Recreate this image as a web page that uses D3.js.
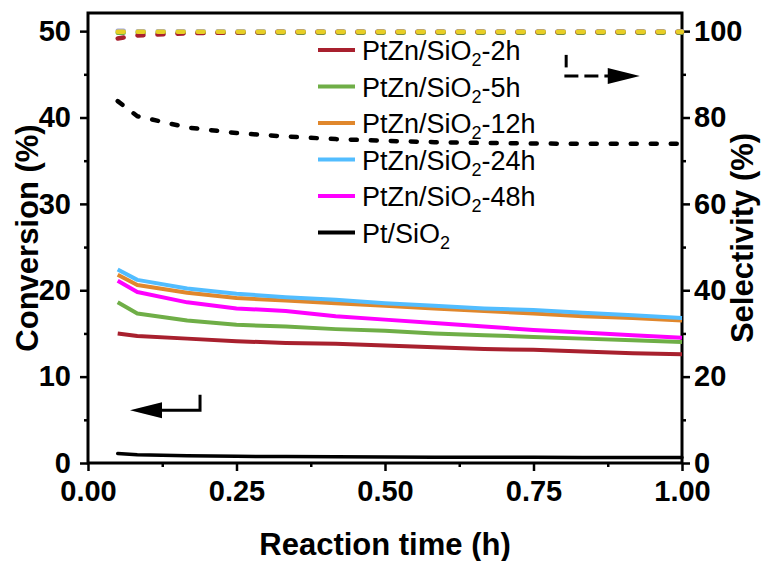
<!DOCTYPE html>
<html>
<head>
<meta charset="utf-8">
<script src="https://cdn.jsdelivr.net/npm/d3@7"></script>
<style>
  body { margin: 0; background: #fff; }
  text { font-family: "Liberation Sans", Arial, sans-serif; }
</style>
</head>
<body>
<svg width="762" height="561"></svg>
<script>
// reaction time (h)
const times = [0.05, 0.083, 0.167, 0.25, 0.333, 0.417, 0.5, 0.583, 0.667, 0.75, 0.833, 0.917, 1.0];

// conversion (%), left axis
const conv2h  = [15.0, 14.7, 14.4, 14.1, 13.9, 13.8, 13.6, 13.4, 13.2, 13.1, 12.9, 12.7, 12.6];
const conv5h  = [18.6, 17.3, 16.5, 16.0, 15.8, 15.5, 15.3, 15.0, 14.8, 14.6, 14.4, 14.2, 14.0];
const conv12h = [21.8, 20.6, 19.7, 19.1, 18.8, 18.5, 18.2, 17.9, 17.6, 17.3, 17.0, 16.8, 16.5];
const conv24h = [22.4, 21.2, 20.2, 19.6, 19.2, 18.9, 18.5, 18.2, 17.9, 17.7, 17.4, 17.1, 16.8];
const conv48h = [21.1, 19.8, 18.6, 17.9, 17.6, 17.0, 16.6, 16.2, 15.8, 15.4, 15.1, 14.8, 14.5];
const convPt  = [1.1, 0.95, 0.85, 0.78, 0.74, 0.72, 0.7, 0.68, 0.67, 0.66, 0.65, 0.64, 0.63];

// selectivity (%), right axis
const sel2h   = [98.3, 99.0, 99.5, 99.7, 99.8, 99.8, 99.8, 99.8, 99.8, 99.8, 99.8, 99.8, 99.8];
const selBlue = [100.1, 100.0, 100.0, 100.0, 100.0, 100.0, 100.0, 100.0, 100.0, 100.0, 100.0, 100.0, 100.0];
const selGreen = [99.6, 99.6, 99.6, 99.6, 99.6, 99.6, 99.6, 99.6, 99.6, 99.6, 99.6, 99.6, 99.6];
const selYellow = [99.85, 99.85, 99.85, 99.85, 99.85, 99.85, 99.85, 99.85, 99.85, 99.85, 99.85, 99.85, 99.85];
const selPt   = [83.8, 80.3, 77.7, 76.4, 75.6, 75.0, 74.6, 74.3, 74.1, 74.0, 73.9, 73.9, 73.9];

const labels = ["2h", "5h", "12h", "24h", "48h"];
const colors = ["#a8202e", "#6fae47", "#e0872c", "#52bdff", "#ff00ff"];

const xTicks = [0, 0.25, 0.5, 0.75, 1];
const yLTicks = [0, 10, 20, 30, 40, 50];
const yRTicks = [0, 20, 40, 60, 80, 100];

const svg = d3.select("svg");
const pl = 88, pr = 682, pt = 13, pb = 463;

const x = d3.scaleLinear().domain([0, 1]).range([pl, pr]);
const yL = d3.scaleLinear().domain([0, 52.1]).range([pb, pt]);
const yR = d3.scaleLinear().domain([0, 104.2]).range([pb, pt]);

const tickFont = g => g.selectAll("text")
  .attr("font-size", 29).attr("font-weight", "bold").attr("fill", "#000");

// minor ticks
function minor(axisFn, scale, vals, tr) {
  svg.append("g").attr("transform", tr)
    .call(axisFn(scale).tickValues(vals).tickSize(4).tickFormat(""))
    .call(g => g.select(".domain").remove())
    .selectAll("line").attr("stroke-width", 2.5);
}
minor(d3.axisLeft, yL, [5, 15, 25, 35, 45], `translate(${pl},0)`);
minor(d3.axisRight, yR, [10, 30, 50, 70, 90], `translate(${pr},0)`);
minor(d3.axisBottom, x, [0.125, 0.375, 0.625, 0.875], `translate(0,${pb})`);

svg.append("g").attr("transform", `translate(${pl},0)`)
  .call(d3.axisLeft(yL).tickValues(yLTicks).tickSize(8).tickPadding(9))
  .call(g => g.select(".domain").remove())
  .call(tickFont)
  .selectAll("line").attr("stroke-width", 2.5);

svg.append("g").attr("transform", `translate(${pr},0)`)
  .call(d3.axisRight(yR).tickValues(yRTicks).tickSize(8).tickPadding(4))
  .call(g => g.select(".domain").remove())
  .call(tickFont)
  .selectAll("line").attr("stroke-width", 2.5);

svg.append("g").attr("transform", `translate(0,${pb})`)
  .call(d3.axisBottom(x).tickValues(xTicks).tickSize(8).tickPadding(9).tickFormat(d3.format(".2f")))
  .call(g => g.select(".domain").remove())
  .call(tickFont)
  .selectAll("line").attr("stroke-width", 2.5);

// frame
svg.append("rect")
  .attr("x", pl).attr("y", pt)
  .attr("width", pr - pl).attr("height", pb - pt)
  .attr("fill", "none").attr("stroke", "#000").attr("stroke-width", 3);

// axis titles
svg.append("text")
  .attr("transform", `translate(38,${(pt + pb) / 2}) rotate(-90)`)
  .attr("text-anchor", "middle").attr("font-size", 31).attr("font-weight", "bold")
  .text("Conversion (%)");
svg.append("text")
  .attr("transform", `translate(753,${(pt + pb) / 2}) rotate(-90)`)
  .attr("text-anchor", "middle").attr("font-size", 31).attr("font-weight", "bold")
  .text("Selectivity (%)");
svg.append("text")
  .attr("x", (pl + pr) / 2).attr("y", 555)
  .attr("text-anchor", "middle").attr("font-size", 31).attr("font-weight", "bold")
  .text("Reaction time (h)");

const lineL = d3.line().x((d, i) => x(times[i])).y(d => yL(d));
const lineR = d3.line().x((d, i) => x(times[i])).y(d => yR(d));

// conversion lines
const convs = [conv2h, conv5h, conv12h, conv24h, conv48h];
convs.forEach((c, i) => {
  svg.append("path").attr("d", lineL(c))
    .attr("fill", "none").attr("stroke", colors[i]).attr("stroke-width", 4)
    .attr("stroke-linejoin", "round");
});
svg.append("path").attr("d", lineL(convPt))
  .attr("fill", "none").attr("stroke", "#000").attr("stroke-width", 3.5)
  .attr("stroke-linecap", "round");

// selectivity dashed lines
const dashed = [
  [selBlue, "#9ea3dc"],
  [selGreen, colors[1]],
  [sel2h, colors[0]],
  [selYellow, "#e6cf26"],
  [selPt, "#000"]
];
dashed.forEach(([s, c]) => {
  svg.append("path").attr("d", lineR(s))
    .attr("fill", "none").attr("stroke", c).attr("stroke-width", 4.5)
    .attr("stroke-linecap", "round").attr("stroke-dasharray", "6,14");
});

// legend
const legend = svg.append("g");
const names = labels.map(l => ["PtZn/SiO", "2", "-" + l]).concat([["Pt/SiO", "2", ""]]);
const legColors = colors.concat(["#000"]);
names.forEach((n, i) => {
  const yy = 50 + i * 36.5;
  legend.append("line")
    .attr("x1", 318).attr("x2", 355).attr("y1", yy).attr("y2", yy)
    .attr("stroke", legColors[i]).attr("stroke-width", 4);
  const t = legend.append("text").attr("x", 362).attr("y", yy + 10).attr("font-size", 27);
  t.append("tspan").text(n[0]);
  t.append("tspan").attr("font-size", 18).attr("dy", 6).text(n[1]);
  if (n[2]) t.append("tspan").attr("dy", -6).text(n[2]);
});

// direction arrows
const arrowL = svg.append("g");
arrowL.append("path")
  .attr("d", `M${x(0.1886)},${yL(7.9)} L${x(0.1886)},${yL(6.1)} L${x(0.12)},${yL(6.1)}`)
  .attr("fill", "none").attr("stroke", "#000").attr("stroke-width", 3);
arrowL.append("path")
  .attr("d", `M${x(0.0707)},${yL(6.1)} L${x(0.1246)},${yL(6.1) - 8} L${x(0.1246)},${yL(6.1) + 8}Z`)
  .attr("fill", "#000");

const arrowR = svg.append("g");
arrowR.append("line")
  .attr("x1", x(0.805)).attr("x2", x(0.805)).attr("y1", yR(94.5)).attr("y2", yR(91.6))
  .attr("stroke", "#000").attr("stroke-width", 3);
arrowR.append("line")
  .attr("x1", x(0.802)).attr("x2", x(0.878)).attr("y1", yR(89.6)).attr("y2", yR(89.6))
  .attr("stroke", "#000").attr("stroke-width", 3).attr("stroke-dasharray", "14,6");
arrowR.append("path")
  .attr("d", `M${x(0.929)},${yR(89.6)} L${x(0.875)},${yR(89.6) - 8} L${x(0.875)},${yR(89.6) + 8}Z`)
  .attr("fill", "#000");
</script>
</body>
</html>
